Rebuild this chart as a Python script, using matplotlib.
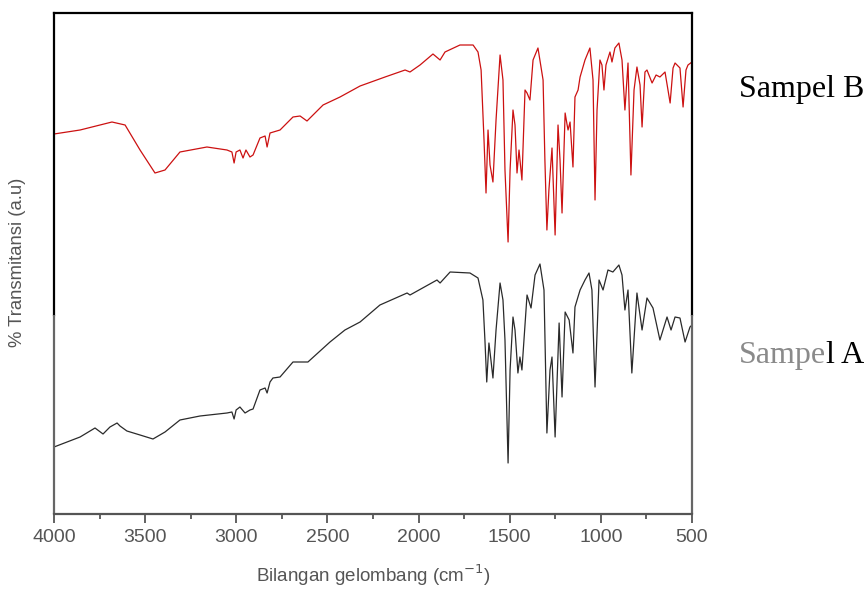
import matplotlib
matplotlib.use("Agg")
import matplotlib.pyplot as plt
from matplotlib.ticker import MultipleLocator

# Sampel B (red, upper trace): wavenumber (cm-1) and transmittance (a.u.)
wn_b = [4000, 3857, 3682, 3610, 3528, 3446, 3391, 3309, 3161, 3051, 3024, 3012, 3001,
        2980, 2963, 2947, 2925, 2908, 2870, 2842, 2831, 2815, 2760, 2689, 2650, 2612,
        2524, 2431, 2321, 2184, 2074, 2047, 1992, 1921, 1882, 1855, 1773, 1701, 1674,
        1657, 1641, 1630, 1619, 1608, 1592, 1575, 1553, 1537, 1526, 1509, 1498, 1482,
        1471, 1460, 1449, 1433, 1416, 1405, 1389, 1372, 1345, 1317, 1307, 1296, 1285,
        1268, 1251, 1235, 1224, 1213, 1196, 1185, 1180, 1169, 1153, 1142, 1125, 1114,
        1087, 1060, 1043, 1032, 1021, 1005, 994, 983, 972, 950, 939, 923, 901, 884,
        868, 851, 835, 818, 802, 785, 774, 758, 747, 719, 697, 676, 648, 620, 604,
        593, 566, 549, 533, 522, 500]
t_b = [380, 384, 392, 389, 364, 341, 344, 362, 367, 364, 362, 351, 362,
       364, 356, 364, 357, 359, 376, 378, 367, 381, 384, 397, 398, 393,
       409, 417, 428, 437, 444, 442, 449, 460, 454, 462, 469, 469, 462,
       444, 374, 321, 384, 349, 332, 394, 459, 434, 344, 272, 344, 404,
       389, 341, 364, 334, 424, 421, 414, 454, 466, 434, 354, 284, 324,
       366, 279, 389, 354, 301, 401, 389, 384, 392, 347, 417, 424, 437,
       454, 466, 434, 314, 404, 454, 449, 424, 449, 462, 452, 466, 471, 454,
       404, 451, 339, 424, 447, 429, 387, 442, 444, 431, 439, 437, 442, 411, 446,
       451, 446, 407, 444, 449, 452]

# Sampel A (black, lower trace)
wn_a = [4000, 3857, 3775, 3731, 3693, 3654, 3638, 3600, 3528, 3457, 3391, 3309, 3199,
        3051, 3024, 3012, 3001, 2980, 2952, 2925, 2908, 2870, 2842, 2831, 2815, 2799,
        2760, 2689, 2607, 2486, 2404, 2321, 2212, 2063, 2047, 1899, 1882, 1827, 1718,
        1674, 1647, 1636, 1626, 1614, 1603, 1592, 1575, 1553, 1537, 1526, 1509, 1498,
        1482, 1471, 1455, 1444, 1433, 1405, 1383, 1361, 1334, 1312, 1296, 1279, 1268,
        1251, 1229, 1213, 1196, 1174, 1153, 1142, 1114, 1087, 1065, 1049, 1032, 1010,
        988, 961, 934, 901, 884, 868, 851, 830, 802, 774, 747, 714, 676, 637, 615,
        593, 566, 538, 511, 500]
t_a = [67, 77, 86, 80, 87, 91, 88, 83, 79, 75, 82, 94, 98,
       101, 102, 95, 104, 107, 101, 104, 105, 124, 126, 121, 132, 136,
       137, 152, 152, 172, 184, 192, 209, 221, 219, 234, 231, 242, 241,
       236, 214, 174, 132, 171, 154, 136, 184, 231, 214, 174, 51, 144,
       197, 184, 141, 157, 144, 219, 206, 239, 250, 224, 81, 144, 157,
       77, 191, 117, 202, 194, 161, 207, 224, 234, 241, 224, 127, 234,
       224, 244, 242, 249, 239, 204, 224, 141, 221, 184, 216, 206, 174, 197, 184,
       197, 196, 172, 187, 189]

xticks = [4000, 3500, 3000, 2500, 2000, 1500, 1000, 500]
label_b = "Sampel B"
label_a_gray = "Sampe"
label_a_black = "l A"

W, H = 868, 597
fig = plt.figure(figsize=(W / 100, H / 100), dpi=100)
ax = fig.add_axes([54 / W, (H - 514) / H, 638 / W, 501 / H])

ax.plot(wn_b, t_b, color="#cc1111", lw=0.9)
ax.plot(wn_a, t_a, color="#2a2a2a", lw=0.9)

ax.set_xlim(4000, 500)
ax.set_ylim(0, 501)
ax.set_xticks(xticks)
ax.xaxis.set_minor_locator(MultipleLocator(250))
ax.set_yticks([])

ax.spines["top"].set_linewidth(1.6)
ax.spines["top"].set_color("black")
ax.spines["left"].set_visible(False)
ax.spines["right"].set_visible(False)
ax.spines["bottom"].set_linewidth(1.6)
ax.spines["bottom"].set_color("#555555")

# side frame lines: dark in the upper part, lighter in the lower part
split = (514 - 315) / 501
for xs in (0, 1):
    ax.plot([xs, xs], [split, 1], transform=ax.transAxes, color="black",
            lw=1.6, clip_on=False, solid_capstyle="projecting")
    ax.plot([xs, xs], [0, split], transform=ax.transAxes, color="#666666",
            lw=1.6, clip_on=False, solid_capstyle="butt")

ax.tick_params(axis="x", which="major", direction="out", length=6.5, width=1.3,
               colors="#555555", labelsize=14, pad=4)
ax.tick_params(axis="x", which="minor", direction="out", length=3.5, width=1.3,
               colors="#555555")
for lab in ax.get_xticklabels():
    lab.set_family("Liberation Sans")

ax.set_xlabel("Bilangan gelombang (cm$^{-1}$)", fontsize=13.5, color="#555555",
              family="Liberation Sans", labelpad=12)
fig.text(18 / W, 1 - 262 / H, "% Transmitansi (a.u)", rotation=90, fontsize=13.3,
         color="#555555", family="Liberation Sans", ha="center", va="center")

fig.text(739 / W, 1 - 97 / H, label_b, fontsize=23, family="Liberation Serif",
         color="black", ha="left", va="baseline")
t1 = fig.text(739 / W, 1 - 363 / H, label_a_gray, fontsize=23, family="Liberation Serif",
              color="#8a8a8a", ha="left", va="baseline")
fig.canvas.draw()
bb = t1.get_window_extent()
fig.text(bb.x1 / W, 1 - 363 / H, label_a_black, fontsize=23, family="Liberation Serif",
         color="black", ha="left", va="baseline")

fig.savefig("out.png", dpi=100, facecolor="white")
